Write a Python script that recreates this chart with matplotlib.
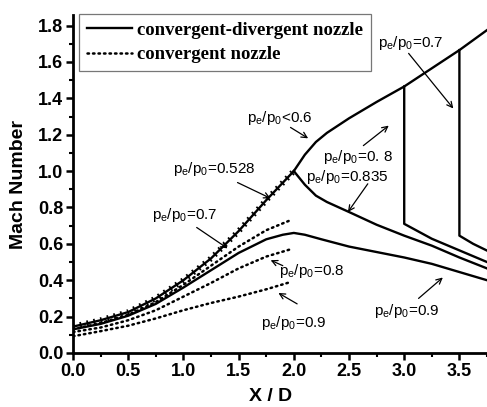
import numpy as np
import matplotlib
matplotlib.use('Agg')
import matplotlib.pyplot as plt
from matplotlib.ticker import MultipleLocator

plt.rcParams['font.family'] = ['Liberation Sans', 'DejaVu Sans']
plt.rcParams['mathtext.fontset'] = 'custom'
plt.rcParams['mathtext.rm'] = 'Liberation Sans'
plt.rcParams['mathtext.it'] = 'Liberation Sans'

# converging section (shared by the choked cases)
x_conv = [0.0, 0.25, 0.5, 0.75, 1.0, 1.25, 1.5, 1.75, 2.0]
m_choked = [0.145, 0.18, 0.225, 0.30, 0.40, 0.52, 0.67, 0.84, 1.0]

# diverging section, fully supersonic (pe/p0 < 0.6)
x_div = [2.0, 2.1, 2.2, 2.3, 2.5, 2.75, 3.0, 3.25, 3.5, 3.75]
m_super = [1.0, 1.09, 1.16, 1.21, 1.29, 1.38, 1.465, 1.565, 1.665, 1.775]

# subsonic branch after throat, pe/p0 = 0.835
m_835 = [1.0, 0.925, 0.865, 0.83, 0.775, 0.705, 0.645, 0.59, 0.525, 0.465]

# normal shock at x = 3.0 (pe/p0 = 0.8)
x_shock8 = [3.0, 3.0, 3.25, 3.5, 3.75]
m_shock8 = [1.465, 0.71, 0.628, 0.564, 0.50]

# normal shock at x = 3.5 (pe/p0 = 0.7)
x_shock7 = [3.5, 3.5, 3.625, 3.75]
m_shock7 = [1.665, 0.645, 0.60, 0.563]

# unchoked C-D nozzle, pe/p0 = 0.9
x_cd9 = [0.0, 0.25, 0.5, 0.75, 1.0, 1.25, 1.5, 1.75, 1.9, 2.0, 2.1, 2.25, 2.5, 2.75, 3.0, 3.25, 3.5, 3.75]
m_cd9 = [0.13, 0.16, 0.205, 0.27, 0.36, 0.455, 0.55, 0.625, 0.65, 0.66, 0.65, 0.625, 0.585, 0.555, 0.525, 0.49, 0.445, 0.40]

# convergent nozzle only
x_cn = [0.0, 0.25, 0.5, 0.75, 1.0, 1.25, 1.5, 1.75, 1.97]
m_cn7 = [0.13, 0.165, 0.21, 0.28, 0.375, 0.48, 0.585, 0.675, 0.73]
m_cn8 = [0.115, 0.14, 0.18, 0.235, 0.31, 0.385, 0.465, 0.53, 0.57]
m_cn9 = [0.092, 0.12, 0.15, 0.19, 0.235, 0.275, 0.31, 0.35, 0.39]

fig = plt.figure(figsize=(4.87, 4.07), dpi=100)
ax = fig.add_axes([0.150, 0.1327, 0.850, 0.830])

lw = 1.7
dot = (0, (0.6, 1.6))
ax.plot(x_conv, m_choked, color='black', lw=4.2, linestyle=(0, (0.3, 0.9)))
ax.plot(x_conv, m_choked, '-', color='black', lw=lw, label='convergent-divergent nozzle')
ax.plot(x_div, m_super, '-', color='black', lw=lw)
ax.plot(x_div, m_835, '-', color='black', lw=lw)
ax.plot(x_shock8, m_shock8, '-', color='black', lw=lw)
ax.plot(x_shock7, m_shock7, '-', color='black', lw=lw)
ax.plot(x_cd9, m_cd9, '-', color='black', lw=lw)
ax.plot(x_cn, m_cn7, color='black', lw=1.8, linestyle=dot, dash_capstyle='round',
        label='convergent nozzle')
ax.plot(x_cn, m_cn8, color='black', lw=1.8, linestyle=dot, dash_capstyle='round')
ax.plot(x_cn, m_cn9, color='black', lw=1.8, linestyle=dot, dash_capstyle='round')

pr = r'$\mathregular{p_e}$/$\mathregular{p_0}$'
# pressure ratio labels: (text, text pos, arrow tail, arrow head)
notes = [
    (pr + '=0.7', (3.06, 1.705), (3.04, 1.647), (3.445, 1.344)),
    (pr + '<0.6', (1.87, 1.29), (1.97, 1.24), (2.13, 1.18)),
    (pr + '=0. 8', (2.58, 1.08), (2.63, 1.14), (2.86, 1.25)),
    (pr + '=0.835', (2.48, 0.97), (2.67, 0.93), (2.49, 0.775)),
    (pr + '=0.528', (1.28, 1.01), (1.49, 0.937), (1.79, 0.85)),
    (pr + '=0.7', (1.015, 0.757), (1.12, 0.69), (1.40, 0.575)),
    (pr + '=0.8', (2.16, 0.45), (1.90, 0.48), (1.79, 0.51)),
    (pr + '=0.9', (2.0, 0.167), (2.03, 0.27), (1.86, 0.33)),
    (pr + '=0.9', (3.02, 0.23), (3.13, 0.30), (3.35, 0.415)),
]
for txt, pos, tail, head in notes:
    ax.text(pos[0], pos[1], txt, fontsize=11, ha='center', va='center')
    ax.annotate('', xy=head, xytext=tail,
                arrowprops=dict(arrowstyle='->', color='black', lw=0.9,
                                shrinkA=0, shrinkB=0, mutation_scale=10))

ax.set_xlim(0, 3.75)
ax.set_ylim(0, 1.857)
ax.xaxis.set_major_locator(MultipleLocator(0.5))
ax.xaxis.set_minor_locator(MultipleLocator(0.25))
ax.yaxis.set_major_locator(MultipleLocator(0.2))
ax.yaxis.set_minor_locator(MultipleLocator(0.1))
ax.tick_params(which='major', direction='out', length=5, width=1.8, labelsize=13, pad=2)
ax.tick_params(which='minor', direction='out', length=3, width=1.5)
for lab in ax.get_xticklabels() + ax.get_yticklabels():
    lab.set_fontweight('bold')
ax.spines['top'].set_visible(False)
ax.spines['right'].set_visible(False)
ax.spines['left'].set_linewidth(2)
ax.spines['bottom'].set_linewidth(2)

ax.set_xlabel('X / D', fontsize=14, fontweight='bold')
ax.set_ylabel('Mach Number', fontsize=14, fontweight='bold')
ax.xaxis.set_label_coords(0.478, -0.104)
ax.yaxis.set_label_coords(-0.111, 0.5)

leg = ax.legend(loc='upper left', bbox_to_anchor=(0.0145, 1.003), borderaxespad=0,
                fancybox=False, handlelength=2.4, handletextpad=0.3,
                prop={'family': 'Liberation Serif', 'weight': 'bold', 'size': 13.5},
                labelspacing=0.4, borderpad=0.4)
leg.get_frame().set_edgecolor('#555555')
leg.get_frame().set_linewidth(0.9)

fig.savefig('out.png', dpi=100)
